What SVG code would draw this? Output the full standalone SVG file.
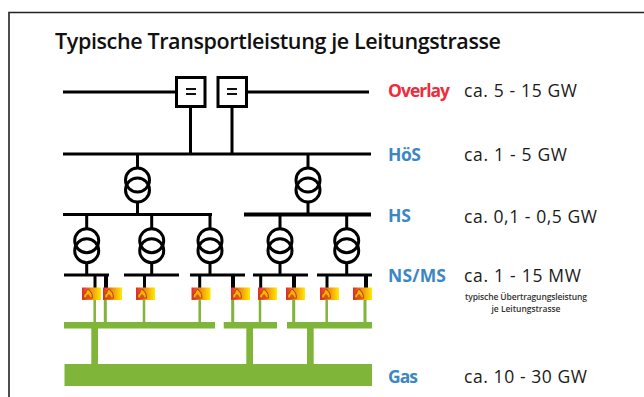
<svg xmlns="http://www.w3.org/2000/svg" width="644" height="397" viewBox="0 0 644 397">
<style>
text{font-family:"Open Sans","Noto Sans","Liberation Sans",sans-serif}
.t{font-size:21.5px;font-weight:600;fill:#111}
.lb{font-size:17.500px;font-weight:700;fill:#3b87c4}
.lr{font-size:17.500px;font-weight:700;fill:#ee2c3c}
.v{font-size:17.500px;fill:#1a1a1a}
.s{font-size:8.500px;fill:#333;text-anchor:middle;font-weight:600}
.k{stroke:#000;fill:none;stroke-linecap:butt}
.w3{stroke-width:3px}
.c{stroke:#000;stroke-width:3px;fill:none}
.g{stroke:#7fb539;fill:none}
.gf{fill:#7fb539}
</style>
<defs>
<linearGradient id="fire" x1="0" x2="1" y1="0" y2="0"><stop offset="0" stop-color="#e8262f"/><stop offset="0.5" stop-color="#f28f10"/><stop offset="1" stop-color="#ffec00"/></linearGradient>
<g id="icon">
<rect width="19" height="12.500" fill="url(#fire)"/>
<path d="M1.500 10.500 L2 6.500 L3.500 6 L4.500 3 L6.500 1.500 L7.500 3.500 L9 4.500 L10 7 L10.500 10.500 Z" fill="#f7b500" stroke="#a8391a" stroke-width="0.900"/>
<path d="M3.500 10.500 L4.500 8 L6 6.500 L8 8.500 L8.500 10.500 Z" fill="#e0501a"/>
</g>
<g id="tr">
<circle cx="0" cy="-5" r="12" class="c"/>
<circle cx="0" cy="5" r="12" class="c"/>
</g>
</defs>
<rect width="644" height="397" fill="#fff"/>
<path d="M644 12.500H9V397" fill="none" stroke="#222" stroke-width="1.600"/>
<text class="t" x="55" y="48.500" textLength="446" lengthAdjust="spacing">Typische Transportleistung je Leitungstrasse</text>

<g id="connectors">
<g class="k w3">
<path d="M63 92H176M247 92H369"/>
<path d="M190.500 107V154M232 107V154"/>
<path d="M63 154H371"/>
<path d="M137.500 154V168M137.500 202V214M308 154V168M308 202V214"/>
<path d="M63 214.500H212"/>
<path d="M86.700 214.500V229M151.700 214.500V229M210 214.500V229M280 214.500V229M346.700 214.500V229"/>
<path d="M86.700 262V275M151.700 262V275M210 262V275M280 262V275M346.700 262V275"/>
<path d="M64 275H109M124 275H179M190 275H245M253 275H308M317 275H372"/>
<path d="M95 275V288M144.500 275V288M199.700 275V288M260.700 275V288M327 275V288"/>
<path d="M106 275V288M233 275V288M294 275V288M366 275V288" stroke-width="4"/>
</g>
<path d="M244 214.500H371" stroke="#000" stroke-width="3.800"/>
<g class="g" stroke-width="2.500">
<path d="M94.700 300V322M144 300V322M199.700 300V322M260 300V322M326.700 300V322"/>
<path d="M105.300 300V322M232.700 300V322M293.700 300V322M365 300V322" stroke-width="3"/>
</g>
<g class="gf">
<rect x="64" y="322" width="151" height="6.500"/>
<rect x="223.700" y="322" width="53.300" height="6.500"/>
<rect x="287" y="322" width="85" height="6.500"/>
<rect x="91.300" y="328" width="6.700" height="36"/>
<rect x="246.300" y="328" width="6.700" height="36"/>
<rect x="307" y="328" width="6.700" height="36"/>
</g>
</g>

<g id="conv1"><rect x="176.500" y="77.500" width="28.500" height="29" fill="#fff" stroke="#000" stroke-width="3"/><path d="M186 89H196M186 94H196" stroke="#111" stroke-width="2"/></g>
<g id="conv2"><rect x="218" y="77.500" width="28.500" height="29" fill="#fff" stroke="#000" stroke-width="3"/><path d="M227 89H237M227 94H237" stroke="#111" stroke-width="2"/></g>

<g id="t1"><use href="#tr" x="137.500" y="185"/></g>
<g id="t2"><use href="#tr" x="308" y="185"/></g>
<g id="t3"><use href="#tr" x="86.700" y="245.700"/></g>
<g id="t4"><use href="#tr" x="151.700" y="245.700"/></g>
<g id="t5"><use href="#tr" x="210" y="245.700"/></g>
<g id="t6"><use href="#tr" x="280" y="245.700"/></g>
<g id="t7"><use href="#tr" x="346.700" y="245.700"/></g>

<g id="loads">
<use href="#icon" x="82" y="287.500"/>
<use href="#icon" x="103" y="287.500"/>
<use href="#icon" x="136" y="287.500"/>
<use href="#icon" x="191.500" y="287.500"/>
<use href="#icon" x="231" y="287.500"/>
<use href="#icon" x="258" y="287.500"/>
<use href="#icon" x="286" y="287.500"/>
<use href="#icon" x="320" y="287.500"/>
<use href="#icon" x="353" y="287.500"/>
</g>

<g id="gas"><rect x="64.500" y="364" width="307.500" height="22" class="gf"/></g>

<g id="labels">
<text class="lr" x="388" y="97" textLength="62">Overlay</text>
<text class="v" x="464" y="97" textLength="113">ca. 5 - 15 GW</text>
<text class="lb" x="388" y="161" textLength="33">HöS</text>
<text class="v" x="464" y="161" textLength="103">ca. 1 - 5 GW</text>
<text class="lb" x="388" y="222" textLength="23">HS</text>
<text class="v" x="464" y="223" textLength="133">ca. 0,1 - 0,5 GW</text>
<text class="lb" x="388" y="282" textLength="58">NS/MS</text>
<text class="v" x="464" y="282" textLength="117">ca. 1 - 15 MW</text>
<text class="s" x="526" y="299.500" textLength="122">typische Übertragungsleistung</text>
<text class="s" x="526" y="311.500" textLength="69">je Leitungstrasse</text>
<text class="lb" x="388" y="383" textLength="30">Gas</text>
<text class="v" x="464" y="383" textLength="123">ca. 10 - 30 GW</text>
</g>
</svg>
